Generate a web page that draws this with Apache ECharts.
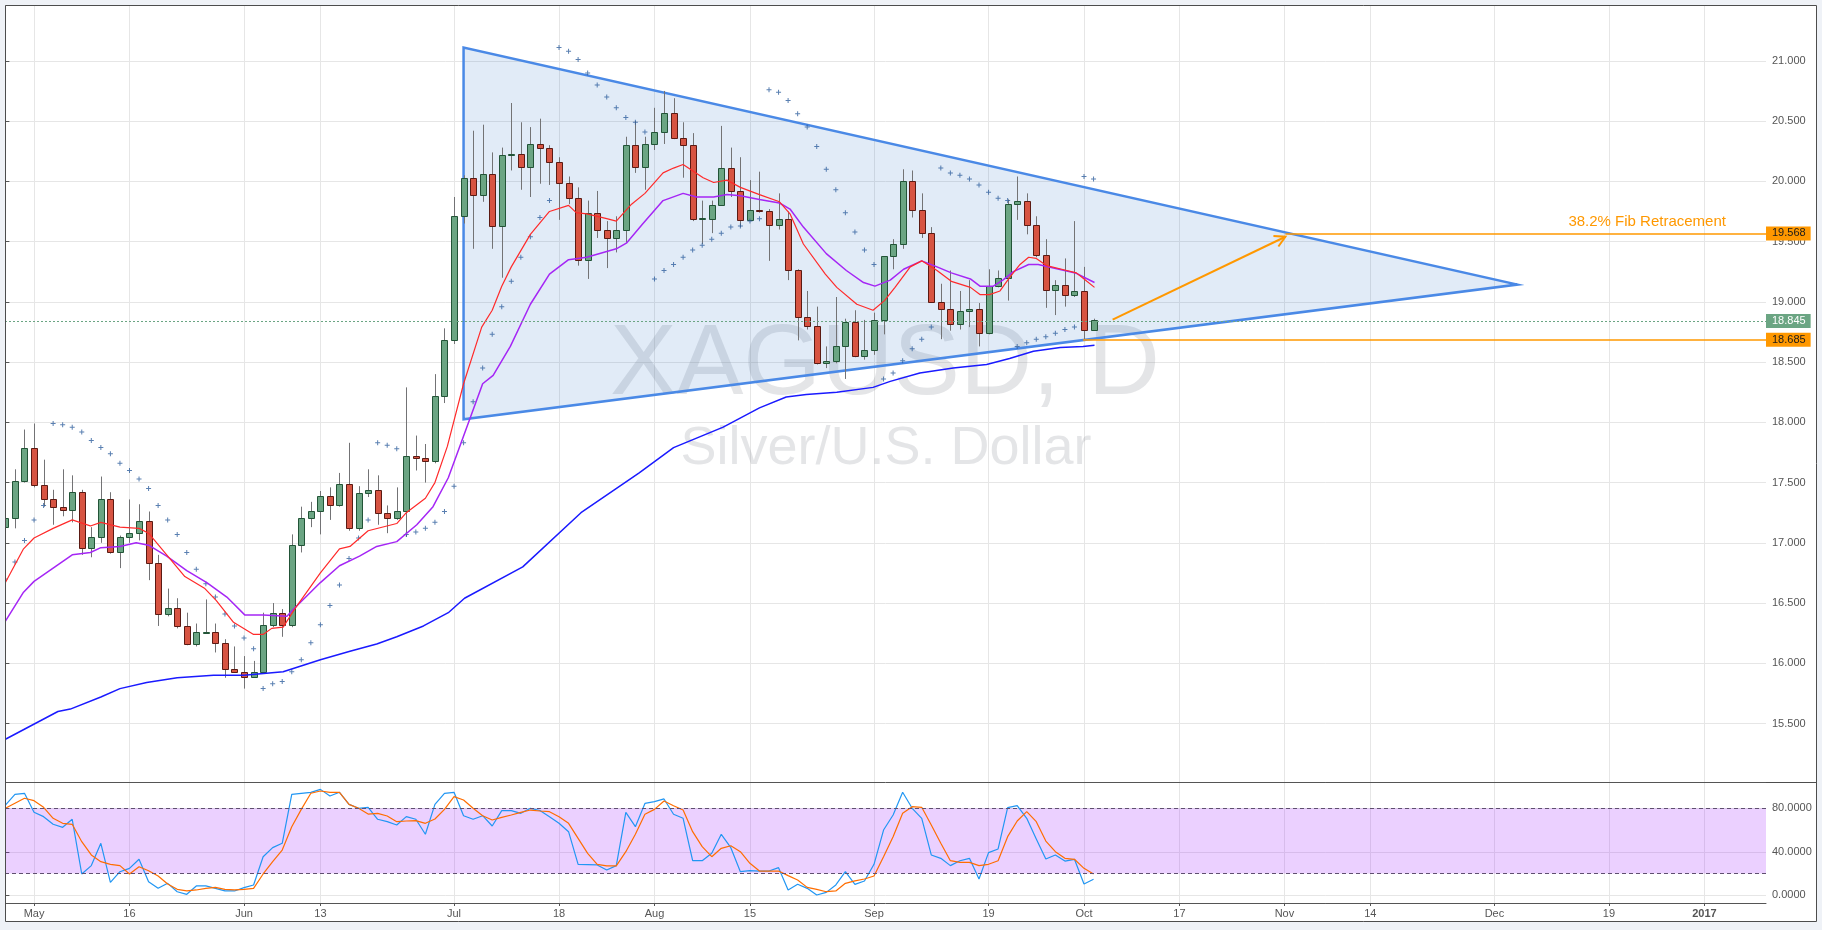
<!DOCTYPE html>
<html><head><meta charset="utf-8">
<script src="https://cdn.jsdelivr.net/npm/echarts@6/dist/echarts.min.js"></script>
<style>html,body{margin:0;padding:0;background:#eff2f7;}#c{width:1822px;height:930px;}</style>
</head><body><div id="c"></div>
<script>
// Bars: index 0 = 27 Apr 2016, one bar per weekday (XAGUSD daily)
const candleOpen = [17.13,17.21,17.51,17.79,17.48,17.36,17.30,17.27,17.42,16.96,
17.05,17.36,16.92,17.05,17.08,17.18,16.83,16.41,16.46,16.31,
16.16,16.255,16.26,16.17,15.95,15.93,15.89,15.93,16.32,16.42,
16.32,16.98,17.21,17.26,17.39,17.31,17.49,17.12,17.41,17.44,
17.25,17.21,17.26,17.72,17.70,17.68,18.22,18.68,19.71,20.03,
19.89,20.06,19.63,20.215,20.23,20.12,20.31,20.28,20.16,19.99,
19.86,19.35,19.74,19.60,19.53,19.60,20.30,20.12,20.31,20.41,
20.57,20.36,20.30,19.686,19.69,19.80,20.11,19.92,19.68,19.76,
19.75,19.64,19.69,19.26,18.87,18.80,18.496,18.51,18.63,18.83,
18.55,18.60,18.85,19.38,19.48,20.00,19.76,19.57,19.00,18.94,
18.82,18.92,18.94,18.74,19.13,19.20,19.81,19.84,19.64,19.39,
19.10,19.14,19.06,19.09,18.77];
const candleHigh = [17.40,17.61,17.94,17.99,17.69,17.44,17.61,17.56,17.44,17.13,
17.55,17.42,17.06,17.36,17.32,17.26,16.90,16.62,16.54,16.42,
16.33,16.53,16.33,16.20,16.14,16.06,16.02,16.42,16.50,16.45,
17.07,17.30,17.34,17.43,17.46,17.58,17.83,17.47,17.61,17.56,
17.31,17.46,18.29,17.89,17.82,18.40,18.78,19.87,20.05,20.42,
20.47,20.24,20.28,20.65,20.49,20.45,20.52,20.30,20.20,20.04,
19.95,19.84,19.92,19.67,19.71,20.37,20.50,20.37,20.61,20.75,
20.69,20.49,20.40,19.84,19.84,20.46,20.28,20.20,20.01,20.08,
19.77,19.90,19.75,19.27,19.09,18.96,18.63,19.04,18.86,18.93,
18.85,18.91,19.38,19.52,20.10,20.09,19.90,19.62,19.15,19.26,
19.09,19.18,18.99,19.27,19.26,19.85,20.04,19.90,19.71,19.52,
19.18,19.36,19.67,19.29,18.86];
const candleLow = [17.03,17.12,17.50,17.46,17.30,17.15,17.22,17.17,16.90,16.88,
17.00,16.91,16.79,17.00,17.02,16.69,16.31,16.39,16.29,16.15,
16.14,16.25,16.09,15.88,15.92,15.79,15.88,15.92,16.30,16.22,
16.30,16.92,17.13,17.07,17.19,17.30,17.10,17.10,17.38,17.15,
17.08,17.19,17.05,17.60,17.50,17.66,18.16,18.65,19.65,19.44,
19.83,19.44,19.20,20.09,19.93,19.87,19.98,19.97,19.68,19.81,
19.30,19.19,19.53,19.28,19.41,19.49,20.07,19.93,20.26,20.31,
20.35,20.03,19.67,19.48,19.57,19.80,19.87,19.62,19.67,19.74,
19.34,19.60,19.18,18.68,18.77,18.48,18.45,18.49,18.36,18.54,
18.52,18.56,18.73,19.27,19.44,19.70,19.53,18.99,18.69,18.76,
18.77,18.79,18.63,18.73,19.12,19.01,19.68,19.56,19.37,18.95,
18.89,18.96,19.04,18.69,18.76];
const candleClose = [17.21,17.51,17.79,17.48,17.36,17.30,17.27,17.42,16.96,17.05,
17.36,16.92,17.05,17.08,17.18,16.83,16.41,16.46,16.31,16.16,
16.26,16.26,16.17,15.95,15.93,15.89,15.93,16.32,16.42,16.32,
16.98,17.21,17.26,17.39,17.31,17.49,17.12,17.41,17.44,17.25,
17.21,17.26,17.72,17.70,17.68,18.22,18.68,19.71,20.03,19.89,
20.06,19.63,20.22,20.23,20.12,20.31,20.28,20.16,19.99,19.86,
19.35,19.74,19.60,19.53,19.60,20.30,20.12,20.31,20.41,20.57,
20.36,20.30,19.69,19.692,19.80,20.11,19.92,19.68,19.76,19.752,
19.64,19.69,19.26,18.87,18.80,18.49,18.51,18.63,18.83,18.55,
18.60,18.85,19.38,19.48,20.00,19.76,19.57,19.00,18.94,18.82,
18.92,18.94,18.74,19.13,19.20,19.81,19.84,19.64,19.39,19.10,
19.14,19.06,19.09,18.77,18.845];

// Parabolic SAR, one dot per bar
const sarValues = [16.70,16.84,17.02,17.19,17.31,17.99,17.98,17.96,17.92,17.85,
17.79,17.74,17.66,17.60,17.53,17.45,17.31,17.19,17.07,16.92,
16.78,16.66,16.55,16.41,16.31,16.21,16.12,15.79,15.83,15.85,
15.93,16.03,16.17,16.32,16.48,16.65,16.87,17.04,17.19,17.83,
17.81,17.78,17.07,17.09,17.12,17.17,17.26,17.47,17.83,18.17,
18.45,18.73,18.96,19.17,19.37,19.54,19.70,19.84,21.11,21.08,
21.01,20.90,20.80,20.70,20.61,20.53,20.49,20.41,19.19,19.26,
19.31,19.37,19.43,19.47,19.52,19.57,19.62,19.63,19.67,19.69,
20.76,20.74,20.67,20.56,20.45,20.29,20.10,19.93,19.74,19.58,
19.43,19.31,18.36,18.41,18.51,18.61,18.69,18.79,20.11,20.07,
20.05,20.02,19.97,19.91,19.86,19.84,18.63,18.66,18.69,18.71,
18.74,18.77,18.79,20.04,20.02];

// Moving averages: [bar position, price]
const maFast = [[0,16.67],[1.9,16.95],[3,17.04],[5,17.12],[7,17.19],[8.9,17.14],[10,17.17],[12,17.13],[14,17.12],[15,17.08],[16.9,16.90],[18.8,16.72],[20.9,16.62],[22.1,16.52],[23.9,16.34],[26,16.24],[27,16.24],[27.9,16.29],[29.1,16.30],[30.3,16.45],[33,16.75],[35,16.95],[36.1,16.97],[38,17.10],[41,17.16],[42,17.25],[44,17.37],[45,17.50],[46.3,17.80],[48,18.32],[49.9,18.79],[51,18.93],[52,19.13],[53,19.29],[55,19.56],[57,19.75],[59,19.80],[59.8,19.74],[60.9,19.73],[63,19.69],[64,19.67],[65.6,19.81],[67,19.90],[68.9,20.07],[70,20.11],[71,20.14],[73.1,20.03],[74.2,19.99],[75.6,20.01],[77,19.95],[79,19.89],[81.1,19.83],[82.2,19.73],[83.6,19.48],[85.9,19.23],[87.1,19.12],[89.2,18.98],[90.9,18.93],[92.1,19.01],[93.2,19.12],[94.8,19.29],[96,19.34],[97.6,19.26],[99.1,19.17],[101.1,19.12],[102.1,19.06],[103.1,19.06],[104.2,19.09],[105.2,19.20],[106.3,19.31],[107.2,19.37],[108,19.36],[109.1,19.30],[111.2,19.26],[112.2,19.24],[113.3,19.17],[114.1,19.12]];
const maMid = [[0,16.35],[1.9,16.59],[3,16.68],[5,16.79],[7,16.90],[8.9,16.92],[10,16.96],[12,16.97],[13.7,17.00],[15,16.98],[16.9,16.89],[19,16.77],[21.1,16.67],[23.2,16.55],[25.1,16.40],[27,16.40],[29.5,16.39],[30.2,16.45],[33,16.67],[35,16.81],[37.1,16.89],[38.9,16.97],[41,17.01],[43.1,17.15],[44.8,17.30],[46.4,17.54],[47.6,17.80],[50,18.32],[51.1,18.39],[52.9,18.63],[55,18.98],[57,19.23],[59,19.35],[60.9,19.37],[64,19.44],[65.1,19.49],[66.8,19.65],[68.9,19.84],[71,19.90],[72.4,19.87],[74.2,19.87],[75.6,19.89],[77,19.88],[79,19.85],[81.1,19.82],[82.2,19.77],[83.6,19.62],[86,19.40],[88.1,19.26],[89.9,19.16],[91.1,19.13],[92.7,19.18],[94.1,19.27],[96,19.34],[97.6,19.29],[99.1,19.24],[101.1,19.19],[102.1,19.13],[103.5,19.13],[104.5,19.18],[105.6,19.25],[107.2,19.31],[108.2,19.31],[109.8,19.28],[112.1,19.24],[113.1,19.20],[114.1,19.16]];
const maSlow = [[0,15.37],[5.5,15.60],[6.8,15.62],[10,15.72],[12,15.79],[14.8,15.84],[18,15.88],[21.8,15.90],[25,15.90],[29.1,15.93],[33,16.03],[36.1,16.10],[38.9,16.16],[41,16.22],[43.8,16.31],[46.4,16.42],[48.1,16.54],[54.2,16.80],[60.3,17.25],[66.4,17.58],[70,17.79],[75.2,17.96],[79,18.12],[81.8,18.21],[83.9,18.23],[87.1,18.25],[90.9,18.29],[92.7,18.34],[95.8,18.41],[99.3,18.45],[102.8,18.48],[105.2,18.53],[107.7,18.59],[110.5,18.62],[112.9,18.63],[114.1,18.64]];

// Stochastic %K and %D, one value per bar
const stochK = [83.0,92.8,93.8,76.3,72.3,65.3,62.5,69.9,19.6,27.3,
47.8,11.9,21.7,24.8,33.1,12.5,6.4,11.0,3.3,0.9,
8.6,8.6,6.4,4.0,4.0,7.0,9.5,35.5,43.8,47.8,
92.8,93.8,94.7,97.4,91.3,94.7,83.6,80.0,80.9,69.9,
67.7,64.6,72.3,69.9,56.1,83.6,93.8,94.7,73.2,69.9,
73.2,63.7,77.8,77.8,75.4,80.0,78.0,72.3,66.2,58.5,
28.5,28.2,27.9,23.3,27.3,76.3,63.1,84.5,86.1,88.6,
74.5,70.8,31.8,31.8,38.6,56.1,43.8,21.7,22.6,22.3,
22.3,25.4,4.9,10.1,6.4,0.3,2.7,9.5,21.7,10.1,
13.2,28.5,60.0,73.8,94.7,80.0,70.8,37.1,34.0,27.3,
31.8,34.0,15.0,39.2,42.6,80.6,82.4,70.8,51.8,33.4,
37.1,31.5,33.1,10.4,14.7];
const stochD = [80.0,84.6,89.2,87.0,80.9,70.8,66.2,65.3,49.3,37.1,
30.9,28.5,27.3,19.6,26.3,22.6,17.7,10.4,5.5,4.0,
4.9,6.4,7.3,5.5,4.9,5.5,6.4,19.6,30.9,41.6,
63.1,79.0,93.8,95.9,94.7,94.7,83.6,80.0,74.7,75.4,
72.9,67.7,68.3,68.6,66.2,70.2,79.0,90.7,87.6,80.0,
73.2,69.2,71.7,73.8,76.3,78.4,77.5,76.9,72.3,66.2,
52.4,38.6,28.5,27.0,27.0,40.1,56.1,74.5,79.0,86.7,
82.4,78.4,58.5,44.7,35.5,43.2,45.6,40.1,29.4,22.3,
22.3,22.3,18.1,14.1,7.3,5.5,3.3,4.0,11.0,13.2,
15.0,17.7,35.5,53.9,75.4,81.5,80.9,64.6,47.8,31.8,
30.3,30.3,27.3,28.5,31.8,53.9,68.3,76.9,67.7,49.9,
40.1,34.0,33.1,24.8,19.6];

// Axis ticks
const tickIndex = [3,13,25,33,47,58,68,78,91,103,113,123,134,143,156,168,178];
const tickLabels = ['May','16','Jun','13','Jul','18','Aug','15','Sep','19','Oct','17','Nov','14','Dec','19','2017'];
const priceTicks = [15.5,16.0,16.5,17.0,17.5,18.0,18.5,19.0,19.5,20.0,20.5,21.0];
const stochTicks = [0,40,80];
const stochBand = [20,80];

// Drawings
const triangleX = [48, 48, 158.4];
const triangleP = [21.11, 18.025, 19.143];
const arrowX = [116.0, 134.1];
const arrowP = [18.852, 19.54];
const fibLevels = [19.568, 18.685];
const fibStartX = [134.1, 112.9];
const fibText = '38.2% Fib Retracement';
const fibTextX = 172.0;

const X_MIN = -0.042, X_MAX = 184.45;
const Y_MIN = 15.015, Y_MAX = 21.455;
const S_MIN = -7.08, S_MAX = 104.18;

const FONT = '"Liberation Sans", Arial, sans-serif';
const AX = '#555555';
const GRIDC = '#e6e6e6';

const candleData = candleOpen.map((o, i) => [i, o, candleClose[i], candleLow[i], candleHigh[i]]);
const sarData = sarValues.map((v, i) => [i, v]);
const kData = stochK.map((v, i) => [i, v]);
const dData = stochD.map((v, i) => [i, v]);
const lastClose = candleClose[candleClose.length - 1];

function renderCandle(params, api) {
  const i = api.value(0), o = api.value(1), c = api.value(2), l = api.value(3), h = api.value(4);
  const pO = api.coord([i, o]), pC = api.coord([i, c]), pL = api.coord([i, l]), pH = api.coord([i, h]);
  const cx = Math.round(pO[0]);
  const up = c >= o;
  const top = Math.round(Math.min(pO[1], pC[1])) + 0.5;
  const bot = Math.round(Math.max(pO[1], pC[1])) + 0.5;
  return { type: 'group', children: [
    { type: 'line', shape: { x1: cx + 0.5, y1: pH[1], x2: cx + 0.5, y2: pL[1] }, style: { stroke: '#737375', lineWidth: 1 } },
    { type: 'rect', shape: { x: cx - 2.5, y: top, width: 6, height: Math.max(1, bot - top) },
      style: { fill: up ? '#6ba583' : '#d75442', stroke: up ? '#225437' : '#5b1a13', lineWidth: 1 } }
  ]};
}
function renderTriangle(params, api) {
  const pts = [0, 1, 2].map(k => api.coord([api.value(2 * k), api.value(2 * k + 1)]));
  return { type: 'polygon', shape: { points: pts },
    style: { fill: 'rgba(21,101,192,0.13)', stroke: '#4a89e6', lineWidth: 2.5, lineJoin: 'miter' } };
}
function renderArrow(params, api) {
  const a = api.coord([api.value(0), api.value(1)]);
  const b = api.coord([api.value(2), api.value(3)]);
  const ang = Math.atan2(b[1] - a[1], b[0] - a[0]);
  const L = 12, sp = 0.5;
  const h1 = [b[0] - L * Math.cos(ang - sp), b[1] - L * Math.sin(ang - sp)];
  const h2 = [b[0] - L * Math.cos(ang + sp), b[1] - L * Math.sin(ang + sp)];
  return { type: 'group', children: [
    { type: 'line', shape: { x1: a[0], y1: a[1], x2: b[0], y2: b[1] }, style: { stroke: '#ff9800', lineWidth: 2 } },
    { type: 'polyline', shape: { points: [h1, b, h2] }, style: { stroke: '#ff9800', lineWidth: 2, fill: null } }
  ]};
}

function boxLabel(text, bg, fg) {
  return { show: true, position: 'end', distance: 0, formatter: text, backgroundColor: bg, color: fg,
    fontSize: 11, fontFamily: FONT, padding: [2, 5, 1, 6], lineHeight: 11 };
}

const chart = echarts.init(document.getElementById('c'), null, { renderer: 'canvas', width: 1822, height: 930 });
const bg = '#eff2f7';
chart.setOption({
  animation: false,
  backgroundColor: '#ffffff',
  textStyle: { fontFamily: FONT },
  grid: [
    { left: 5, top: 6, width: 1761, height: 776, show: false },
    { left: 5, top: 782, width: 1761, height: 121, show: false }
  ],
  xAxis: [
    { gridIndex: 0, type: 'value', min: X_MIN, max: X_MAX,
      axisLine: { show: true, onZero: false, lineStyle: { color: AX } },
      axisTick: { show: false, customValues: tickIndex },
      axisLabel: { show: false, customValues: tickIndex },
      splitLine: { show: true, lineStyle: { color: GRIDC } } },
    { gridIndex: 1, type: 'value', min: X_MIN, max: X_MAX,
      axisLine: { show: true, onZero: false, lineStyle: { color: AX } },
      axisTick: { show: true, customValues: tickIndex, length: 3, lineStyle: { color: AX } },
      axisLabel: { show: true, customValues: tickIndex, color: '#555', fontSize: 11, margin: 5, fontFamily: FONT,
        formatter: v => { const k = tickIndex.indexOf(Math.round(v)); const t = k >= 0 ? tickLabels[k] : ''; return t === '2017' ? '{b|2017}' : t; },
        rich: { b: { fontWeight: 'bold', color: '#555', fontSize: 11, fontFamily: FONT } } },
      splitLine: { show: true, lineStyle: { color: GRIDC } } }
  ],
  yAxis: [
    { gridIndex: 0, type: 'value', position: 'right', min: Y_MIN, max: Y_MAX,
      axisLine: { show: true, lineStyle: { color: AX } },
      axisTick: { show: true, customValues: priceTicks, length: 4, lineStyle: { color: AX } },
      axisLabel: { customValues: priceTicks, formatter: v => v.toFixed(3), color: '#555', fontSize: 11, margin: 6, fontFamily: FONT },
      splitLine: { show: true, lineStyle: { color: GRIDC } } },
    { gridIndex: 1, type: 'value', position: 'right', min: S_MIN, max: S_MAX,
      axisLine: { show: true, lineStyle: { color: AX } },
      axisTick: { show: true, customValues: stochTicks, length: 4, lineStyle: { color: AX } },
      axisLabel: { customValues: stochTicks, formatter: v => v.toFixed(4), color: '#555', fontSize: 11, margin: 6, fontFamily: FONT },
      splitLine: { show: true, lineStyle: { color: GRIDC } } }
  ],
  graphic: [
    { type: 'text', x: 885, y: 366, z: 1, silent: true,
      style: { text: 'XAGUSD, D', font: '100px "Liberation Sans", Arial, sans-serif', fill: 'rgba(120,123,134,0.2)', align: 'center', verticalAlign: 'middle', textAlign: 'center', textVerticalAlign: 'middle' } },
    { type: 'text', x: 886, y: 449, z: 1, silent: true,
      style: { text: 'Silver/U.S. Dollar', font: '54px "Liberation Sans", Arial, sans-serif', fill: 'rgba(120,123,134,0.2)', align: 'center', verticalAlign: 'middle', textAlign: 'center', textVerticalAlign: 'middle' } },
    { type: 'rect', z: 50, silent: true, shape: { x: 0, y: 0, width: 1822, height: 5 }, style: { fill: bg } },
    { type: 'rect', z: 50, silent: true, shape: { x: 0, y: 0, width: 5, height: 930 }, style: { fill: bg } },
    { type: 'rect', z: 50, silent: true, shape: { x: 1817, y: 0, width: 5, height: 930 }, style: { fill: bg } },
    { type: 'rect', z: 50, silent: true, shape: { x: 0, y: 922, width: 1822, height: 8 }, style: { fill: bg } },
    { type: 'rect', z: 51, silent: true, shape: { x: 5.5, y: 5.5, width: 1811, height: 916 }, style: { fill: null, stroke: '#4d4d4d', lineWidth: 1 } },
    { type: 'line', z: 51, silent: true, shape: { x1: 1766, y1: 782.5, x2: 1817, y2: 782.5 }, style: { stroke: '#4d4d4d', lineWidth: 1 } }
  ],
  series: [
    { type: 'custom', name: 'triangle', xAxisIndex: 0, yAxisIndex: 0, renderItem: renderTriangle, silent: true,
      data: [[triangleX[0], triangleP[0], triangleX[1], triangleP[1], triangleX[2], triangleP[2]]],
      encode: { x: [0, 2, 4], y: [1, 3, 5] } },
    { type: 'custom', name: 'XAGUSD', xAxisIndex: 0, yAxisIndex: 0, renderItem: renderCandle, clip: true, silent: true,
      data: candleData, encode: { x: 0, y: [1, 2, 3, 4] } },
    { type: 'line', name: 'MA slow', xAxisIndex: 0, yAxisIndex: 0, data: maSlow, showSymbol: false, silent: true,
      lineStyle: { color: '#1a1aff', width: 1.5 } },
    { type: 'line', name: 'MA mid', xAxisIndex: 0, yAxisIndex: 0, data: maMid, showSymbol: false, silent: true,
      lineStyle: { color: '#a526f5', width: 1.5 } },
    { type: 'line', name: 'MA fast', xAxisIndex: 0, yAxisIndex: 0, data: maFast, showSymbol: false, silent: true,
      lineStyle: { color: '#ff2a2a', width: 1.2 } },
    { type: 'scatter', name: 'SAR', xAxisIndex: 0, yAxisIndex: 0, data: sarData, silent: true,
      symbol: 'path://M0,2H5V3H0Z M2,0H3V5H2Z', symbolSize: 5, itemStyle: { color: '#2f5f9e' } },
    { type: 'line', name: 'levels', xAxisIndex: 0, yAxisIndex: 0, data: [], silent: true,
      markLine: { silent: true, symbol: 'none', animation: false,
        data: [
          { yAxis: lastClose, lineStyle: { color: '#6ba583', type: [2, 2], width: 1 }, label: boxLabel(lastClose.toFixed(3), '#6ba583', '#ffffff') },
          [ { coord: [fibStartX[0], fibLevels[0]], lineStyle: { color: '#ff9800', type: 'solid', width: 1.5 }, label: boxLabel(fibLevels[0].toFixed(3), '#ff9800', '#1a1a1a') },
            { coord: [X_MAX, fibLevels[0]] } ],
          [ { coord: [fibStartX[1], fibLevels[1]], lineStyle: { color: '#ff9800', type: 'solid', width: 1.5 }, label: boxLabel(fibLevels[1].toFixed(3), '#ff9800', '#1a1a1a') },
            { coord: [X_MAX, fibLevels[1]] } ]
        ] },
      markPoint: { silent: true, symbol: 'circle', symbolSize: 0,
        data: [ { coord: [fibTextX, fibLevels[0]], label: { show: true, position: 'top', distance: 4, formatter: fibText, color: '#ff9800', fontSize: 15, fontFamily: FONT } } ] } },
    { type: 'custom', name: 'arrow', xAxisIndex: 0, yAxisIndex: 0, renderItem: renderArrow, silent: true,
      data: [[arrowX[0], arrowP[0], arrowX[1], arrowP[1]]], encode: { x: [0, 2], y: [1, 3] } },
    { type: 'line', name: '%K', xAxisIndex: 1, yAxisIndex: 1, data: kData, showSymbol: false, silent: true,
      lineStyle: { color: '#2196f3', width: 1.2 },
      markArea: { silent: true, itemStyle: { color: 'rgba(153,21,255,0.2)' }, data: [[{ yAxis: stochBand[0] }, { yAxis: stochBand[1] }]] },
      markLine: { silent: true, symbol: 'none', label: { show: false },
        lineStyle: { color: '#5f4f70', type: [4, 3], width: 1 },
        data: [{ yAxis: stochBand[0] }, { yAxis: stochBand[1] }] } },
    { type: 'line', name: '%D', xAxisIndex: 1, yAxisIndex: 1, data: dData, showSymbol: false, silent: true,
      lineStyle: { color: '#ff6d00', width: 1.2 } }
  ]
});
</script></body></html>
